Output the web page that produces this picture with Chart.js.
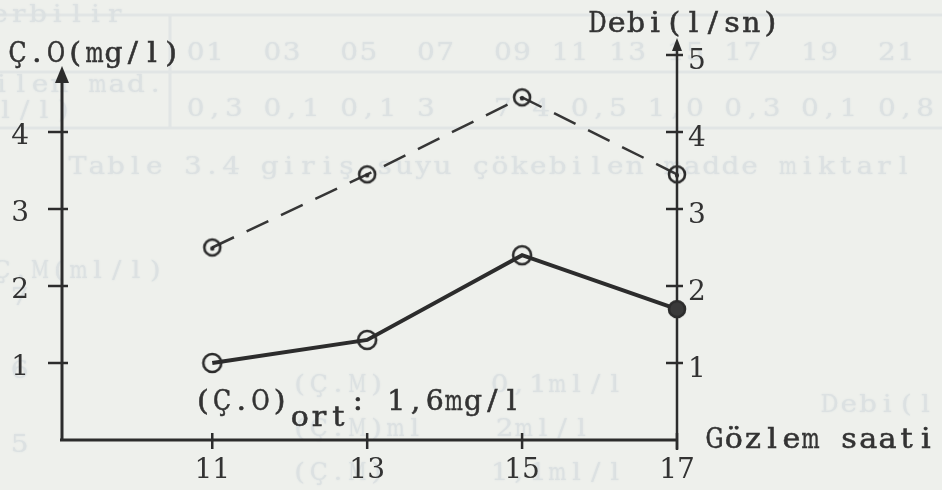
<!DOCTYPE html>
<html lang="tr">
<head>
<meta charset="utf-8">
<title>Ç.O ve Debi - Gözlem saati</title>
<script src="https://cdn.jsdelivr.net/npm/chart.js@4.4.1/dist/chart.umd.min.js"></script>
<style>
  html, body { margin: 0; padding: 0; background: #eef0ec; }
  #wrap { width: 942px; height: 490px; position: relative; }
</style>
</head>
<body>
<div id="wrap"><canvas id="grafik" width="942" height="490"></canvas></div>
<script>
// Gözlem saatleri ve ölçülen değerler
const saatler = [11, 13, 15, 17];
const coDegerleri = [1.0, 1.3, 2.4, 1.7];        // Ç.O (mg/l)
const debiDegerleri = [2.5, 3.45, 4.45, 3.45];   // Debi (l/sn)

// eksen etiketleri
const xEtiketleri = [11, 13, 15, 17];
const solEtiketler = [1, 2, 3, 4];
const sagEtiketler = [1, 2, 3, 4, 5];

const murekkep = '#2c2c2c';
const yazi = '#333333';
const hayalet = '#dce1e2';
const yaziTipi = "'DejaVu Serif', 'Liberation Serif', serif";
const adim = 19.2; // daktilo harf araligi

// daktilo gibi: her harf ayni genislikte bir kutuya
function daktilo(c, metin, x, y, boyut, kalin) {
    let kalinlik = kalin === undefined ? 0.55 : kalin;
    c.save();
    c.font = (boyut || 27) + 'px ' + yaziTipi;
    c.textAlign = 'center';
    c.textBaseline = 'alphabetic';
    c.strokeStyle = c.fillStyle;
    if (kalinlik > 0) c.lineWidth = kalinlik;
    Array.from(metin).forEach((h, i) => {
        if (h === ' ') return;
        let w = c.measureText(h).width;
        let k = Math.min(1.12, adim * 0.94 / w);
        c.save();
        c.translate(x + i * adim + adim / 2, y);
        c.scale(k, 1);
        c.fillText(h, 0, 0);
        if (kalinlik > 0) c.strokeText(h, 0, 0);
        c.restore();
    });
    c.restore();
}

// nokta sekilleri (daire, ortasi noktali daire, dolu daire)
function halka(r, dolu, nokta) {
    let s = 2 * r + 6;
    let c = document.createElement('canvas');
    c.width = s; c.height = s;
    let g = c.getContext('2d');
    g.strokeStyle = murekkep;
    g.lineWidth = 2.6;
    g.beginPath();
    g.arc(s / 2, s / 2, r, 0, Math.PI * 2);
    if (dolu) {
        g.fillStyle = '#3a3a3a';
        g.fill();
    }
    g.stroke();
    if (nokta) {
        g.fillStyle = murekkep;
        g.beginPath();
        g.arc(s / 2, s / 2 + 1, 2.2, 0, Math.PI * 2);
        g.fill();
    }
    return c;
}
const acikHalka = halka(9, false, false);
const doluHalka = halka(8, true, false);
const noktaliHalka = halka(8, false, true);

// arka sayfadan gecen silik yazilar
const kagit = {
    id: 'kagit',
    beforeDraw(chart) {
        let c = chart.ctx;
        c.save();
        c.strokeStyle = '#e1e5e5';
        c.lineWidth = 3;
        [15, 72, 128].forEach(y => {
            c.beginPath(); c.moveTo(0, y); c.lineTo(942, y); c.stroke();
        });
        c.beginPath(); c.moveTo(170, 15); c.lineTo(170, 128); c.stroke();
        c.fillStyle = hayalet;
        c.shadowColor = hayalet;
        c.shadowBlur = 2;
        let satirlar = [
            ['erbilir', -10, 22], ['ilen mad.', -8, 92], ['l/l)', -4, 118],
            ['01  03  05  07  09 11 13 15 17  19  21  23', 186, 60],
            ['0,3 0,1 0,1 3   7 4 0,5 1,0 0,3 0,1 0,8 0,4', 186, 116],
            ['Table 3.4 giriş suyu çökebilen madde miktarl', 68, 174],
            ['Ç.M(ml/l)', -8, 278], ['7', 10, 305], ['6', 10, 378], ['5', 10, 452],
            ['(Ç.M)', 290, 392], ['0,1ml/l', 490, 392],
            ['(Ç.M)ml', 290, 436], ['2ml/l', 495, 436],
            ['(Ç.M)', 290, 480], ['1,1ml/l', 490, 480],
            ['Debi(l', 820, 412]
        ];
        satirlar.forEach(s => daktilo(c, s[0], s[1], s[2], 25, 0));
        c.restore();
    }
};

// eksen cizgileri, oklar ve cizgi isaretleri
const eksenler = {
    id: 'eksenler',
    beforeDatasetsDraw(chart) {
        let c = chart.ctx;
        let a = chart.chartArea;
        let x = chart.scales.x, y = chart.scales.y, y2 = chart.scales.y2;
        c.save();
        c.strokeStyle = murekkep;
        c.fillStyle = murekkep;
        c.lineCap = 'butt';

        // sol eksen
        c.lineWidth = 3;
        c.beginPath(); c.moveTo(a.left, a.bottom + 1); c.lineTo(a.left, a.top + 24); c.stroke();
        c.beginPath();
        c.moveTo(a.left, a.top + 11);
        c.lineTo(a.left - 7, a.top + 28);
        c.lineTo(a.left + 7, a.top + 28);
        c.closePath(); c.fill();

        // yatay eksen
        c.beginPath(); c.moveTo(a.left - 2, a.bottom); c.lineTo(a.right, a.bottom); c.stroke();

        // sag eksen
        c.lineWidth = 2.5;
        c.beginPath(); c.moveTo(a.right, a.bottom + 10); c.lineTo(a.right, a.top - 8); c.stroke();
        c.beginPath();
        c.moveTo(a.right, a.top - 17);
        c.lineTo(a.right - 5, a.top - 4);
        c.lineTo(a.right + 5, a.top - 4);
        c.closePath(); c.fill();

        // isaretler
        c.lineWidth = 2.5;
        solEtiketler.forEach(v => {
            let p = y.getPixelForValue(v);
            c.beginPath(); c.moveTo(a.left - 14, p); c.lineTo(a.left + 6, p); c.stroke();
        });
        sagEtiketler.forEach(v => {
            let p = y2.getPixelForValue(v);
            c.beginPath(); c.moveTo(a.right - 11, p); c.lineTo(a.right + 6, p); c.stroke();
        });
        xEtiketleri.forEach(v => {
            let p = x.getPixelForValue(v);
            c.beginPath(); c.moveTo(p, a.bottom - 7); c.lineTo(p, a.bottom + 9); c.stroke();
        });
        c.restore();
    },
    afterDraw(chart) {
        let c = chart.ctx;
        let a = chart.chartArea;
        let x = chart.scales.x, y = chart.scales.y;
        c.save();
        c.fillStyle = yazi;
        daktilo(c, 'Ç.O(mg/l)', 8, 62);
        daktilo(c, 'Debi(l/sn)', a.right - 89, 32);
        daktilo(c, 'Gözlem saati', a.right + 28, a.bottom + 8);

        // ortalama degeri
        let bx = x.getPixelForValue(11) - 19;
        let by = y.getPixelForValue(0) - 30;
        daktilo(c, '(Ç.O)', bx, by);
        daktilo(c, 'ort', bx + 97, by + 16);
        daktilo(c, ': 1,6mg/l', bx + 155, by);
        c.restore();
    }
};

let ctx = document.getElementById('grafik').getContext('2d');

const etiketYazi = { family: yaziTipi, size: 28 };

new Chart(ctx, {
    type: 'line',
    data: {
        datasets: [{
            label: 'Ç.O (mg/l)',
            data: saatler.map((s, i) => ({ x: s, y: coDegerleri[i] })),
            yAxisID: 'y',
            borderColor: murekkep,
            borderWidth: 4,
            pointStyle: [acikHalka, acikHalka, acikHalka, doluHalka],
            pointRadius: 9,
            tension: 0,
            clip: false
        }, {
            label: 'Debi (l/sn)',
            data: saatler.map((s, i) => ({ x: s, y: debiDegerleri[i] })),
            yAxisID: 'y2',
            borderColor: '#363636',
            borderWidth: 2.5,
            borderDash: [24, 14],
            pointStyle: noktaliHalka,
            pointRadius: 8,
            tension: 0,
            clip: false
        }]
    },
    options: {
        responsive: false,
        animation: false,
        events: [],
        layout: { padding: { top: 55, left: 0, right: 0, bottom: 0 } },
        plugins: {
            legend: { display: false },
            tooltip: { enabled: false }
        },
        scales: {
            x: {
                type: 'linear',
                position: 'bottom',
                min: 9.06,
                max: 17,
                afterBuildTicks: s => { s.ticks = xEtiketleri.map(v => ({ value: v })); },
                afterFit: s => { s.height = 50; },
                grid: { display: false, drawTicks: false },
                border: { display: false },
                ticks: {
                    font: etiketYazi,
                    color: yazi,
                    padding: 14,
                    maxRotation: 0,
                    autoSkip: false
                }
            },
            y: {
                position: 'left',
                min: 0,
                max: 5,
                afterBuildTicks: s => { s.ticks = solEtiketler.map(v => ({ value: v })); },
                afterFit: s => { s.width = 62; },
                grid: { display: false, drawTicks: false },
                border: { display: false },
                ticks: {
                    font: etiketYazi,
                    color: yazi,
                    padding: 33,
                    labelOffset: 5
                }
            },
            y2: {
                position: 'right',
                min: 0,
                max: 5,
                afterBuildTicks: s => { s.ticks = sagEtiketler.map(v => ({ value: v })); },
                afterFit: s => { s.width = 265; },
                grid: { display: false, drawTicks: false },
                border: { display: false },
                ticks: {
                    font: etiketYazi,
                    color: yazi,
                    padding: 11,
                    labelOffset: 7
                }
            }
        }
    },
    plugins: [kagit, eksenler]
});
</script>
</body>
</html>
